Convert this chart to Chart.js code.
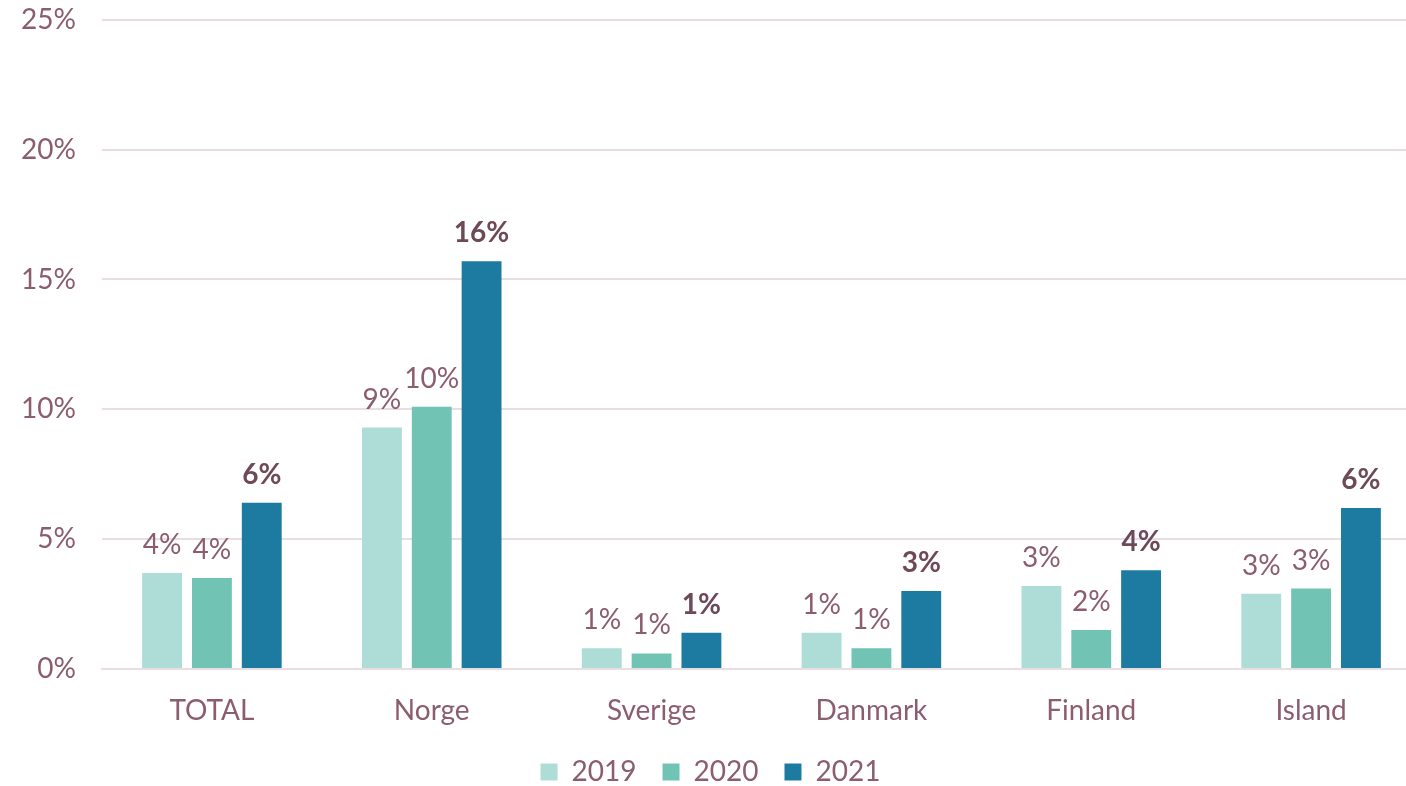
<!DOCTYPE html>
<html>
<head>
<meta charset="utf-8">
<script src="https://cdn.jsdelivr.net/npm/chart.js@4"></script>
<style>
html,body{margin:0;padding:0;background:#fff;overflow:hidden;width:1406px;height:786px;}
#wrap{width:1421px;height:819px;margin-top:-23px;}
</style>
</head>
<body>
<div id="wrap"><canvas id="chart"></canvas></div>
<script>
const categories = ["TOTAL","Norge","Sverige","Danmark","Finland","Island"];
const years = ["2019","2020","2021"];
const v2019 = [3.7, 9.3, 0.8, 1.4, 3.2, 2.9];
const v2020 = [3.5, 10.1, 0.6, 0.8, 1.5, 3.1];
const v2021 = [6.4, 15.7, 1.4, 3.0, 3.8, 6.2];
const colors = ["#AEDCD6","#71C3B4","#1D7BA1"];

const textColor = "#8B5D6E";
const boldColor = "#6E4A58";
const fontSize = 28;

// small plugin for value labels above the bars
const valueLabels = {
id:"valueLabels",
afterDatasetsDraw(chart){
const c = chart.ctx;
chart.data.datasets.forEach((ds,i)=>{
const meta = chart.getDatasetMeta(i);
const bold = i===2;
c.save();
c.font = (bold ? "bold " : "") + fontSize + "px Lato";
c.fillStyle = bold ? boldColor : textColor;
c.textAlign = "center";
c.textBaseline = "middle";
meta.data.forEach((bar,j)=>{
c.fillText(Math.round(ds.data[j]) + "%", bar.x, bar.y - 28);
});
c.restore();
});
}
};

new Chart(document.getElementById("chart"),{
type:"bar",
data:{
labels:categories,
datasets:[
{label:years[0],data:v2019,backgroundColor:colors[0]},
{label:years[1],data:v2020,backgroundColor:colors[1]},
{label:years[2],data:v2021,backgroundColor:colors[2]}
]
},
options:{
responsive:true,
maintainAspectRatio:false,
animation:false,
categoryPercentage:0.68,
barPercentage:0.8,
layout:{padding:{left:0,right:0,top:0,bottom:0}},
plugins:{
legend:{
position:"bottom",
labels:{
color:textColor,
font:{family:"Lato",size:fontSize},
boxWidth:17,
boxHeight:17,
padding:26
}
},
tooltip:{enabled:false}
},
scales:{
x:{
grid:{display:false},
border:{color:"#E8DDE2",width:2},
ticks:{color:textColor,font:{family:"Lato",size:fontSize},padding:17},
afterFit:(s)=>{s.height=63;}
},
y:{
min:0,
max:25,
ticks:{stepSize:5,color:textColor,font:{family:"Lato",size:fontSize},padding:26,
callback:(v)=>v+"%"},
grid:{color:"#E8DDE2",lineWidth:2,drawTicks:false},
border:{display:false},
afterFit:(s)=>{s.width=102;}
}
}
},
plugins:[valueLabels]
});
</script>
</body>
</html>
